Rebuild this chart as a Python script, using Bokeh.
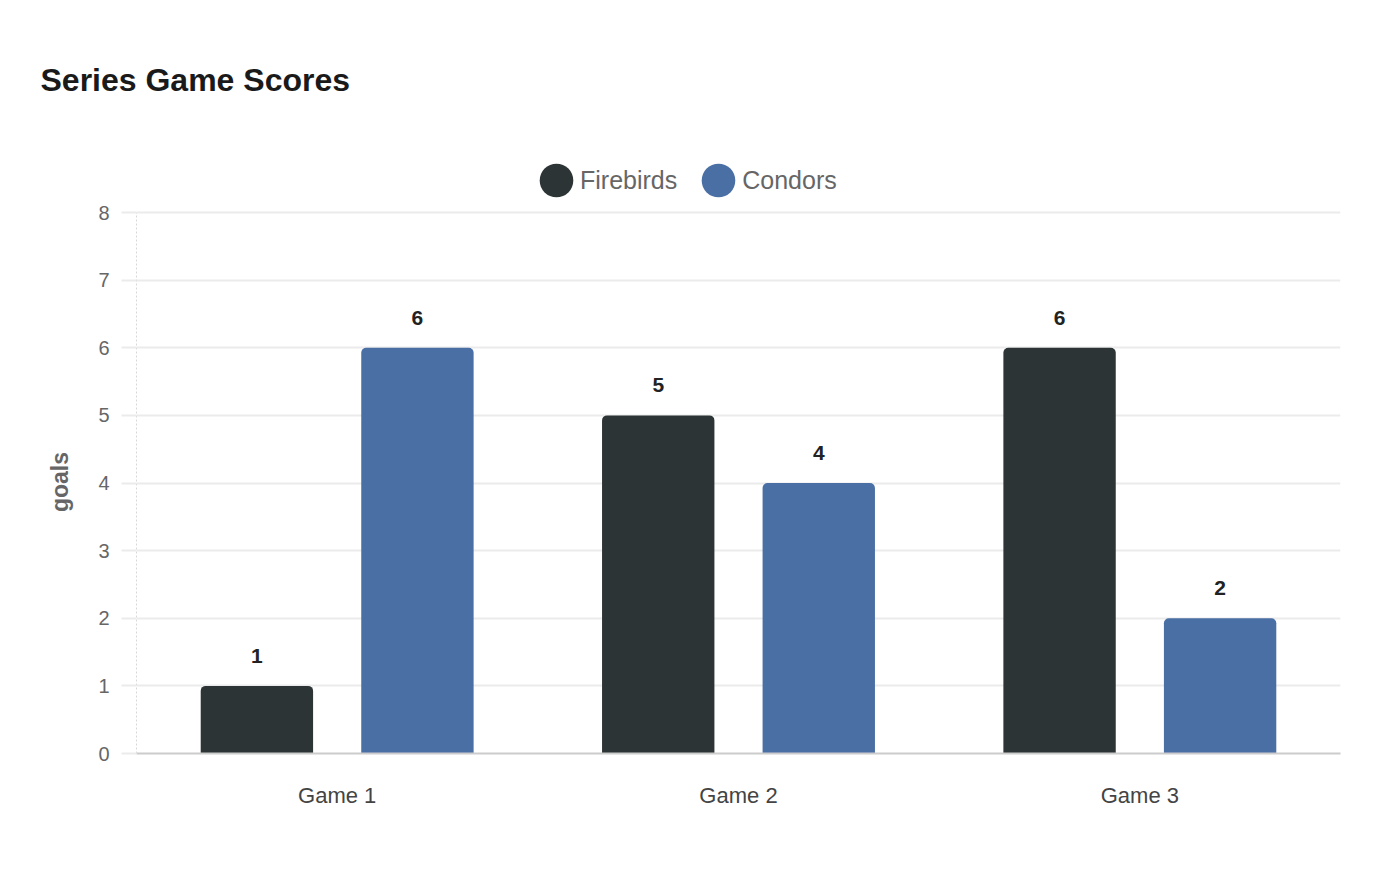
from bokeh.plotting import figure
from bokeh.layouts import column
from bokeh.models import ColumnDataSource, FactorRange, Legend, LegendItem, FixedTicker
from bokeh.transform import dodge
from bokeh.core.properties import value
from bokeh.embed import file_html
from bokeh.resources import INLINE

games = ["Game 1", "Game 2", "Game 3"]
firebirds = [1, 5, 6]
condors = [6, 4, 2]
y_ticks = [0, 1, 2, 3, 4, 5, 6, 7, 8]

FONT = "Liberation Sans"
C_FIRE = "#2d3436"
C_COND = "#4a6fa5"

src = ColumnDataSource(data=dict(
    games=games, firebirds=firebirds, condors=condors,
    fire_txt=[str(v) for v in firebirds], cond_txt=[str(v) for v in condors],
))

# ---------- header: title + legend ----------
head = figure(width=1400, height=199, x_range=(0, 1), y_range=(0, 1),
              output_backend="svg", toolbar_location=None,
              min_border_left=136, min_border_right=60, min_border_top=97, min_border_bottom=0,
              x_axis_location=None, y_axis_location=None)
head.outline_line_color = None
head.grid.visible = False

head.title.text = "Series Game Scores"
head.title.text_font = FONT
head.title.text_font_size = "32px"
head.title.text_font_style = "bold"
head.title.text_color = "#1a1a1a"
head.title.align = "left"
head.title.offset = -96
head.title.standoff = 0

d1 = head.ellipse(x=[-10], y=[-10], width=10, height=10, width_units="screen", height_units="screen",
                  fill_color=C_FIRE, line_color=None)
d2 = head.ellipse(x=[-10], y=[-10], width=10, height=10, width_units="screen", height_units="screen",
                  fill_color=C_COND, line_color=None)

legend = Legend(items=[LegendItem(label="Firebirds", renderers=[d1]),
                       LegendItem(label="Condors", renderers=[d2])],
                orientation="horizontal", location=(399, -2),
                glyph_width=42, glyph_height=42, label_standoff=3, spacing=20,
                padding=0, margin=0, border_line_color=None, background_fill_alpha=0,
                label_text_font=FONT, label_text_font_size="25px", label_text_color="#666666",
                label_text_baseline="middle")
head.add_layout(legend, "center")

# ---------- main chart ----------
p = figure(width=1400, height=681, x_range=FactorRange(*games), y_range=(0, 8.03),
           output_backend="svg", toolbar_location=None,
           min_border_left=136, min_border_right=60, min_border_top=11, min_border_bottom=127)
p.outline_line_color = None
p.background_fill_color = "white"

p.vbar(x=dodge("games", -0.2, range=p.x_range), top="firebirds", width=0.28, source=src,
       fill_color=C_FIRE, line_color=None, border_radius=(5, 5, 0, 0))
p.vbar(x=dodge("games", 0.2, range=p.x_range), top="condors", width=0.28, source=src,
       fill_color=C_COND, line_color=None, border_radius=(5, 5, 0, 0))

p.text(x=dodge("games", -0.2, range=p.x_range), y="firebirds", text="fire_txt", source=src,
       y_offset=-30, text_align="center", text_baseline="middle", text_font=value(FONT),
       text_font_size="21px", text_font_style="bold", text_color="#222222")
p.text(x=dodge("games", 0.2, range=p.x_range), y="condors", text="cond_txt", source=src,
       y_offset=-30, text_align="center", text_baseline="middle", text_font=value(FONT),
       text_font_size="21px", text_font_style="bold", text_color="#222222")

p.yaxis.ticker = FixedTicker(ticks=y_ticks)
p.yaxis.bounds = (0, 8)
p.yaxis.axis_label = "goals"
p.yaxis.axis_label_text_font = FONT
p.yaxis.axis_label_text_font_size = "23px"
p.yaxis.axis_label_text_font_style = "bold"
p.yaxis.axis_label_text_color = "#666666"
p.yaxis.axis_label_standoff = 22
p.yaxis.major_label_text_font = FONT
p.yaxis.major_label_text_font_size = "20px"
p.yaxis.major_label_text_color = "#666666"
p.yaxis.major_label_standoff = 12
p.yaxis.major_tick_in = 0
p.yaxis.major_tick_out = 15
p.yaxis.major_tick_line_color = "#ebebeb"
p.yaxis.major_tick_line_width = 2
p.yaxis.minor_tick_line_color = None
p.yaxis.axis_line_color = "#d8d8d8"
p.yaxis.axis_line_dash = "2 2"

p.xaxis.major_label_text_font = FONT
p.xaxis.major_label_text_font_size = "22px"
p.xaxis.major_label_text_color = "#444444"
p.xaxis.major_label_standoff = 23
p.xaxis.major_tick_line_color = None
p.xaxis.minor_tick_line_color = None
p.xaxis.axis_line_color = "#cccccc"
p.xaxis.axis_line_width = 2

p.xgrid.grid_line_color = None
p.ygrid.grid_line_color = "#ebebeb"
p.ygrid.grid_line_width = 2

layout = column(head, p, spacing=0)
open("out.html", "w").write(file_html(layout, INLINE))
